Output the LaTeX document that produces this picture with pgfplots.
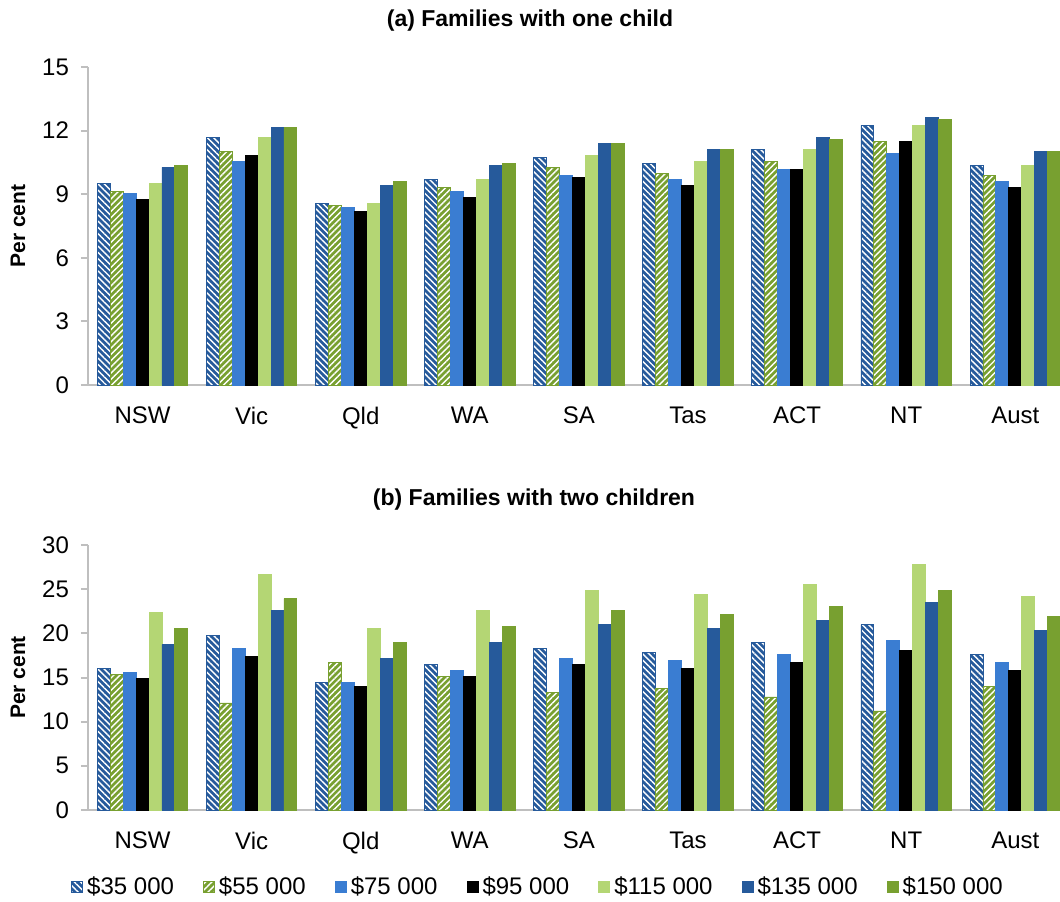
\documentclass[border=0pt]{standalone}
\usepackage{fontspec}
\setmainfont{Liberation Sans}
\usepackage{pgfplots}
\pgfplotsset{compat=1.18}
\usepackage{pgfplotstable}
\usetikzlibrary{patterns.meta}

\definecolor{dblue}{HTML}{265A9B}
\definecolor{mgreen}{HTML}{78A030}
\definecolor{mblue}{HTML}{3A7DD2}
\definecolor{lgreen}{HTML}{B4D674}
\definecolor{axgray}{HTML}{BFBFBF}

\pgfplotstableread{
x a b c d e f g
0 9.50 9.15 9.05 8.76 9.50 10.27 10.36
1 11.67 11.00 10.53 10.83 11.67 12.14 12.14
2 8.57 8.48 8.38 8.19 8.57 9.42 9.61
3 9.70 9.32 9.14 8.85 9.70 10.36 10.46
4 10.74 10.27 9.89 9.80 10.83 11.40 11.40
5 10.46 9.98 9.70 9.42 10.55 11.12 11.12
6 11.12 10.55 10.17 10.17 11.12 11.68 11.59
7 12.25 11.50 10.93 11.50 12.25 12.63 12.53
8 10.36 9.89 9.61 9.32 10.36 11.02 11.02
}\tabA

\pgfplotstableread{
x a b c d e f g
0 15.98 15.30 15.53 14.85 22.35 18.71 20.53
1 19.81 12.12 18.26 17.35 26.67 22.58 23.94
2 14.39 16.67 14.39 13.94 20.53 17.12 18.94
3 16.44 15.08 15.76 15.08 22.58 18.94 20.76
4 18.26 13.26 17.12 16.44 24.85 20.98 22.58
5 17.80 13.71 16.89 15.98 24.39 20.53 22.12
6 18.94 12.80 17.58 16.67 25.53 21.44 23.03
7 20.98 11.21 19.17 18.03 27.80 23.48 24.85
8 17.58 13.94 16.67 15.76 24.17 20.30 21.89
}\tabB

\pgfplotsset{
  base/.style={
    scale only axis, width=486pt,
    xmin=-0.5, xmax=8.41, ymin=0,
    xtick={0,...,8},
    xticklabels={NSW,Vic,Qld,WA,SA,Tas,ACT,NT,Aust},
    ybar=0pt, bar width=0.1185,
    axis x line*=bottom, axis y line*=left,
    axis line style={draw=axgray, line width=1pt},
    tick align=outside, major tick length=3.5pt,
    y tick style={draw=axgray, line width=1pt},
    x tick style={draw=none},
    tick label style={font=\fontsize{12}{14}\selectfont},
    /pgf/number format/assume math mode=true,
    xticklabel style={yshift=-4pt},
    yticklabel style={xshift=-2.5pt},
    ylabel={Per cent},
    ylabel style={font=\bfseries\fontsize{10.5}{12}\selectfont, at={(axis description cs:-0.072,0.5)}, anchor=center},
    legend image code/.code={\draw[#1, line width=0.4pt] (0pt,-2.8pt) rectangle (5.6pt,2.8pt);},
  },
  sA/.style={fill=dblue, draw=dblue, line width=0.4pt, postaction={pattern={Lines[angle=-45,distance=2.2pt,line width=0.7pt]}, pattern color=white}},
  sB/.style={fill=mgreen, draw=mgreen, line width=0.4pt, postaction={pattern={Lines[angle=45,distance=2.2pt,line width=0.7pt]}, pattern color=white}},
  sC/.style={fill=mblue, draw=mblue, line width=0.4pt},
  sD/.style={fill=black, draw=black, line width=0.4pt},
  sE/.style={fill=lgreen, draw=lgreen, line width=0.4pt},
  sF/.style={fill=dblue, draw=dblue, line width=0.4pt},
  sG/.style={fill=mgreen, draw=mgreen, line width=0.4pt},
}

\begin{document}
\begin{tikzpicture}
\useasboundingbox (0,0) rectangle (530pt,450.5pt);
\node[font=\bfseries\fontsize{11.5}{13}\selectfont] at (265pt,440pt) {(a) Families with one child};
\node[font=\bfseries\fontsize{11.5}{13}\selectfont] at (267pt,200.5pt) {(b) Families with two children};

\begin{axis}[base, at={(44pt,258pt)}, anchor=south west, height=159pt, ymax=15, ytick={0,3,...,15}]
\addplot[sA] table[x=x,y=a]{\tabA};
\addplot[sB] table[x=x,y=b]{\tabA};
\addplot[sC] table[x=x,y=c]{\tabA};
\addplot[sD] table[x=x,y=d]{\tabA};
\addplot[sE] table[x=x,y=e]{\tabA};
\addplot[sF] table[x=x,y=f]{\tabA};
\addplot[sG] table[x=x,y=g]{\tabA};
\end{axis}

\begin{axis}[base, at={(44pt,45.5pt)}, anchor=south west, height=132.5pt, ymax=30, ytick={0,5,...,30},
  legend columns=7,
  legend style={at={(0.464,-0.29)}, anchor=center, draw=none, font=\fontsize{12}{14}\selectfont,
    /tikz/every even column/.append style={column sep=12.5pt}}]
\addplot[sA] table[x=x,y=a]{\tabB};
\addplot[sB] table[x=x,y=b]{\tabB};
\addplot[sC] table[x=x,y=c]{\tabB};
\addplot[sD] table[x=x,y=d]{\tabB};
\addplot[sE] table[x=x,y=e]{\tabB};
\addplot[sF] table[x=x,y=f]{\tabB};
\addplot[sG] table[x=x,y=g]{\tabB};
\legend{\$35 000,\$55 000,\$75 000,\$95 000,\$115 000,\$135 000,\$150 000}
\end{axis}
\end{tikzpicture}
\end{document}
